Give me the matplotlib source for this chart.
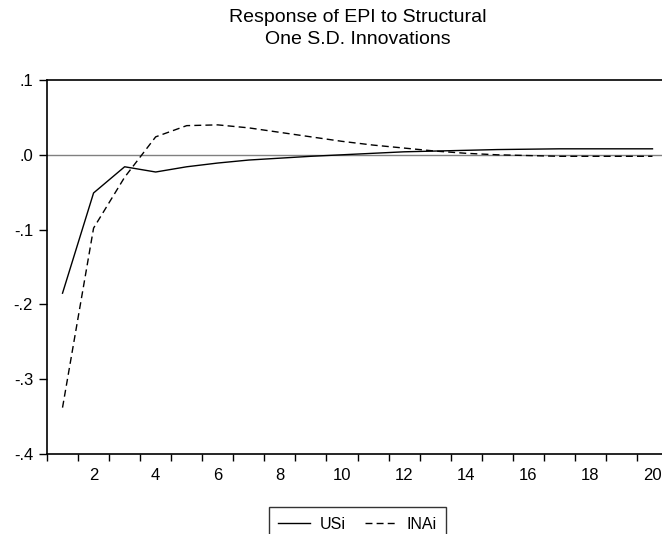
import matplotlib
matplotlib.use("Agg")
import matplotlib.pyplot as plt
import numpy as np

periods = list(range(1, 21))
usi = [-0.185, -0.051, -0.016, -0.023, -0.016, -0.011, -0.007, -0.0045, -0.002, 0.0,
       0.002, 0.004, 0.005, 0.006, 0.007, 0.0075, 0.008, 0.008, 0.008, 0.008]
inai = [-0.338, -0.098, -0.030, 0.024, 0.039, 0.040, 0.036, 0.030, 0.024, 0.018,
        0.013, 0.009, 0.005, 0.002, 0.0, -0.001, -0.002, -0.002, -0.002, -0.002]
ytick_vals = [-0.4, -0.3, -0.2, -0.1, 0.0, 0.1]
ytick_labels = ['-.4', '-.3', '-.2', '-.1', '.0', '.1']
xtick_labels = [2, 4, 6, 8, 10, 12, 14, 16, 18, 20]

plt.rcParams['font.family'] = ['Liberation Sans', 'DejaVu Sans']

W, H = 662, 534
PX = 72 / 100  # points per pixel
fig = plt.figure(figsize=(W / 100, H / 100), dpi=100)
ax = fig.add_axes([47 / W, (H - 454) / H, (668 - 47) / W, (454 - 80) / H])

ax.axhline(0, color='#808080', lw=1.0, zorder=1)
ax.plot(periods, usi, color='black', lw=1.0, label='USi', zorder=3)
ax.plot(periods, inai, color='black', lw=1.0, dashes=(5, 3), label='INAi', zorder=3)

ax.set_xlim(0.5, 20.5)
ax.set_ylim(-0.4, 0.1)
ax.set_yticks(ytick_vals)
ax.set_yticklabels(ytick_labels, fontsize=12)
ax.set_xticks(xtick_labels)
ax.set_xticklabels([str(v) for v in xtick_labels], fontsize=12)
ax.tick_params(axis='x', which='major', length=0, pad=10)
ax.set_xticks(np.arange(0.5, 20.6, 1.0), minor=True)
ax.tick_params(axis='x', which='minor', length=7 * PX, width=1, direction='out')
ax.tick_params(axis='y', which='major', length=8 * PX, width=1, direction='out', pad=6 * PX)

for s in ax.spines.values():
    s.set_linewidth(1.2)
    s.set_color('black')

fig.text(357.5 / W, 1 - 17 / H, 'Response of EPI to Structural', ha='center', va='center', fontsize=14)
fig.text(357.5 / W, 1 - 40 / H, 'One S.D. Innovations', ha='center', va='center', fontsize=14)

leg = fig.legend(loc='upper center', bbox_to_anchor=(357.5 / W, (H - 507) / H), ncol=2,
                 fontsize=11.5, frameon=True, fancybox=False, handlelength=2.0,
                 columnspacing=1.2, handletextpad=0.6, borderpad=0.6, borderaxespad=0)
leg.get_frame().set_edgecolor('black')
leg.get_frame().set_linewidth(1.0)

fig.savefig('out.png', dpi=100)
